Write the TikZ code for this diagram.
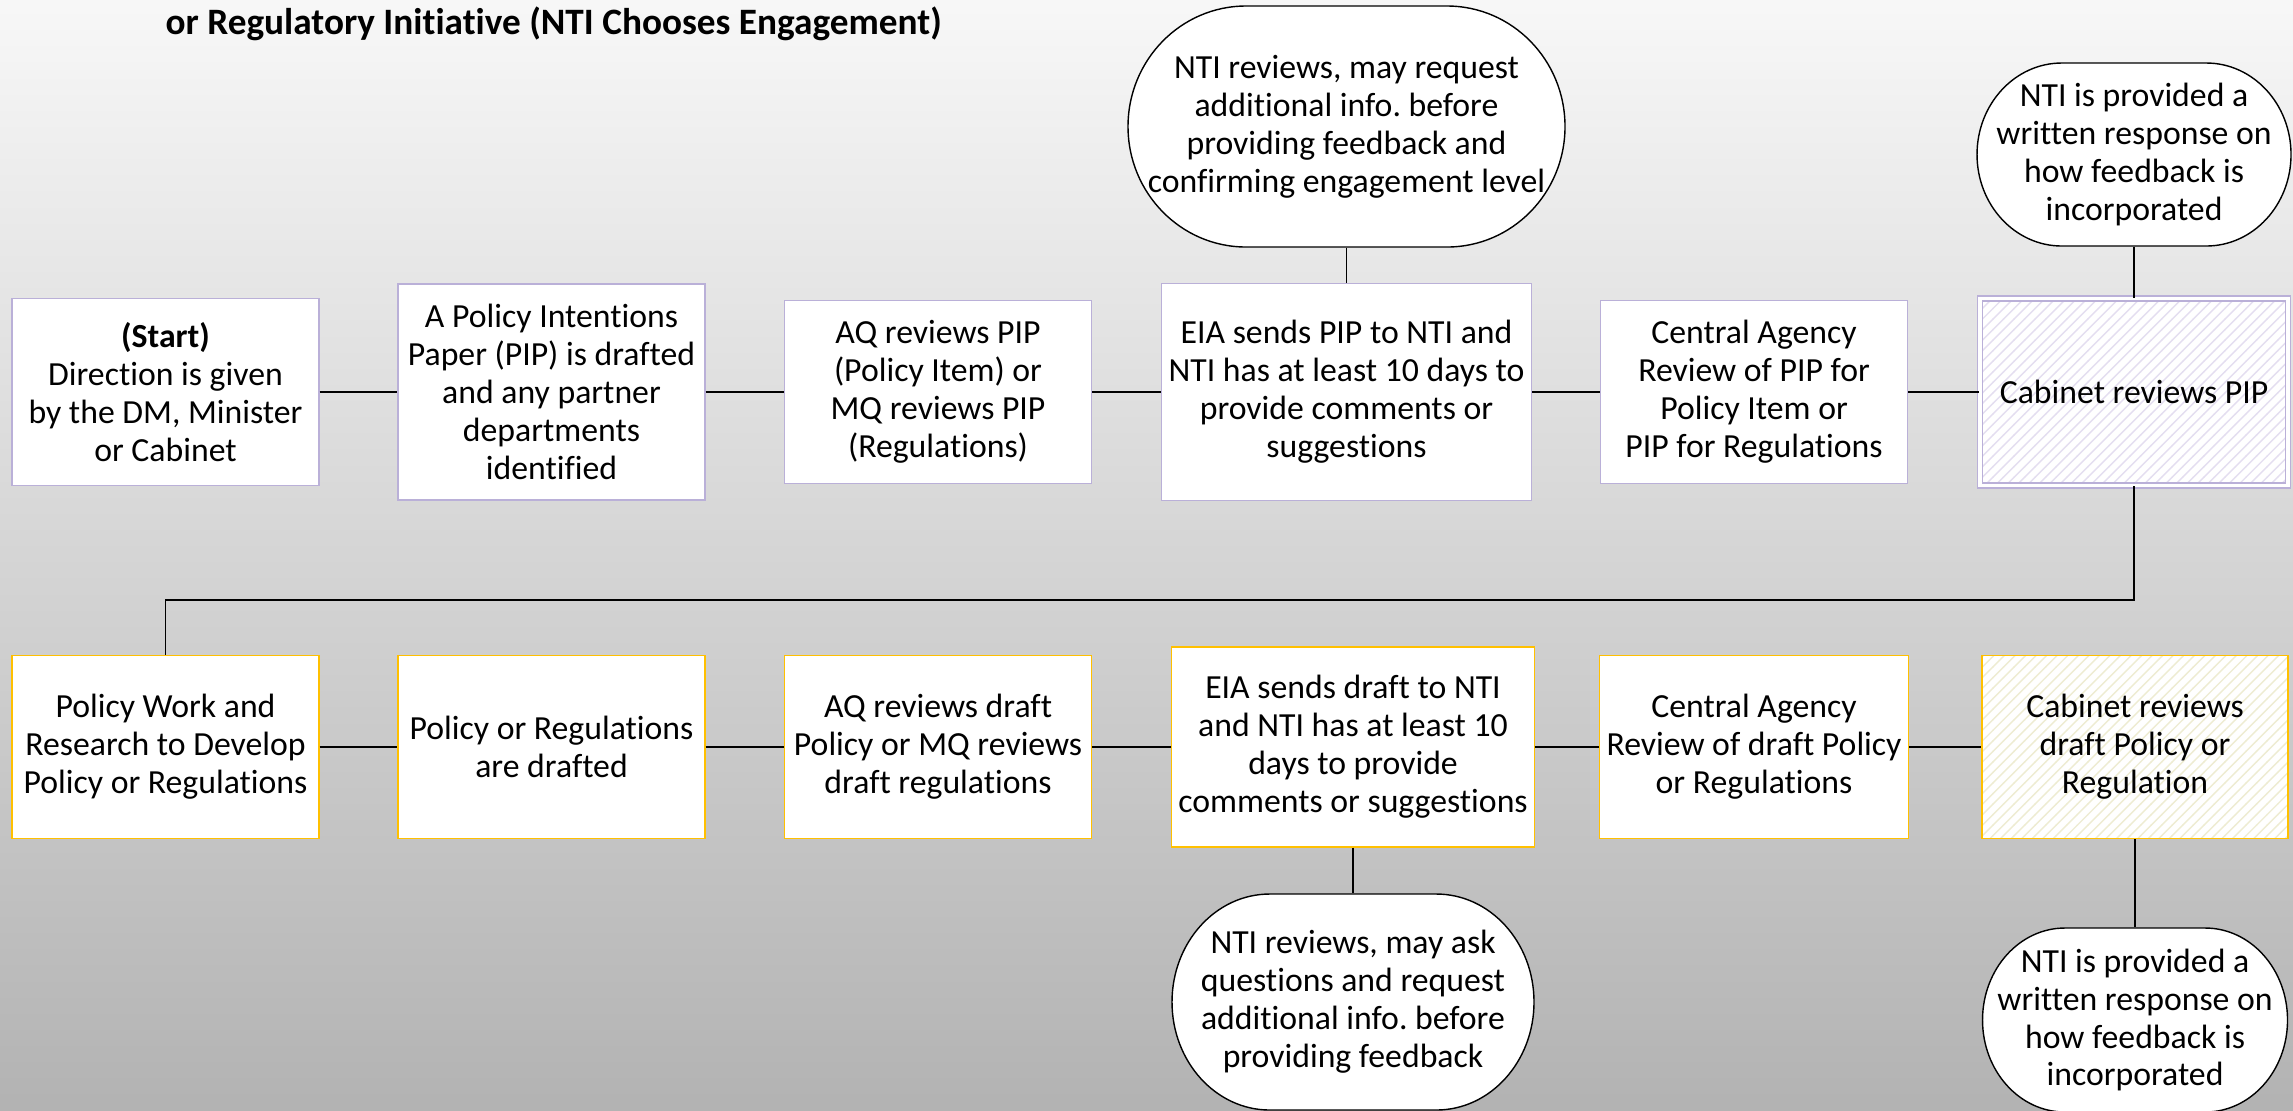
\documentclass[tikz,border=0pt]{standalone}
\usepackage{fontspec}
\setmainfont[Ligatures=NoCommon]{Carlito}
\usetikzlibrary{patterns}
\definecolor{pipPurple}{RGB}{186,176,216}
\definecolor{draftGold}{RGB}{255,192,0}
\definecolor{hatchPurple}{RGB}{228,222,240}
\definecolor{hatchGold}{RGB}{238,236,210}
\frenchspacing
\newcommand{\BodyFont}{\fontsize{9.6}{10.8}\selectfont}
\tikzset{
  pipBox/.style={draw=pipPurple,fill=white,line width=0.4pt,align=center,inner sep=2pt,
    minimum width=3.07cm,minimum height=1.83cm,font=\BodyFont},
  draftBox/.style={pipBox,draw=draftGold},
  ntiText/.style={align=center,inner sep=0pt,font=\BodyFont},
  link/.style={draw=black,line width=0.55pt}
}
% bubble with elliptic corners: name, centre, width, height, text
\newcommand{\NtiBubble}[5]{%
  \draw[fill=white,line width=0.4pt,shift={(#2)}] ({-#3/2},0)
    arc[start angle=180,end angle=90,x radius={0.27*#3},y radius={#4/2}]
    -- ({#3/2-0.27*#3},{#4/2})
    arc[start angle=90,end angle=-90,x radius={0.27*#3},y radius={#4/2}]
    -- ({-#3/2+0.27*#3},{-#4/2})
    arc[start angle=270,end angle=180,x radius={0.27*#3},y radius={#4/2}] -- cycle;
  \node[ntiText,minimum width=#3cm,minimum height=#4cm] (#1) at (#2) {#5};}

\begin{document}
\begin{tikzpicture}
\shade[top color=black!3,bottom color=black!30] (0,0) rectangle (22.93,-11.10);
\useasboundingbox (0,0) rectangle (22.93,-11.10);
\node[anchor=base west,inner sep=0pt,font=\bfseries\fontsize{10.6}{12}\selectfont] (title) at (1.65,-0.34)
  {or Regulatory Initiative (NTI Chooses Engagement)};

% PIP stage
\node[pipBox,minimum height=1.87cm] (start) at (1.655,-3.92) {\textbf{(Start)}\\Direction is given\\by the DM, Minister\\or Cabinet};
\node[pipBox,minimum height=2.16cm] (pipDraft) at (5.515,-3.92) {A Policy Intentions\\Paper (PIP) is drafted\\and any partner\\departments\\identified};
\node[pipBox] (aqPip) at (9.38,-3.92) {AQ reviews PIP\\(Policy Item) or\\MQ reviews PIP\\(Regulations)};
\node[pipBox,minimum width=3.61cm,minimum height=2.17cm] (eiaPip) at (13.465,-3.92) {EIA sends PIP to NTI and\\NTI has at least 10 days to\\provide comments or\\suggestions};
\node[pipBox] (centralPip) at (17.54,-3.92) {Central Agency\\Review of PIP for\\Policy Item or\\PIP for Regulations};
\node[pipBox,minimum width=3.08cm,minimum height=1.87cm,double=white,double distance=1.1pt,
  preaction={fill=white},pattern=north east lines,pattern color=hatchPurple] (cabPip) at (21.34,-3.92) {Cabinet reviews PIP};
\NtiBubble{ntiPip}{13.465,-1.265}{4.37}{2.41}{NTI reviews, may request\\additional info. before\\providing feedback and\\confirming engagement level}
\NtiBubble{ntiCab}{21.34,-1.545}{3.14}{1.83}{NTI is provided a\\written response on\\how feedback is\\incorporated}

% draft stage
\node[draftBox] (work) at (1.655,-7.47) {Policy Work and\\Research to Develop\\Policy or Regulations};
\node[draftBox] (drafted) at (5.515,-7.47) {Policy or Regulations\\are drafted};
\node[draftBox] (aqDraft) at (9.38,-7.47) {AQ reviews draft\\Policy or MQ reviews\\draft regulations};
\node[draftBox,minimum width=3.48cm,minimum height=2.0cm] (eiaDraft) at (13.53,-7.47) {EIA sends draft to NTI\\and NTI has at least 10\\days to provide\\comments or suggestions};
\node[draftBox] (centralDraft) at (17.54,-7.47) {Central Agency\\Review of draft Policy\\or Regulations};
\node[draftBox,minimum width=3.06cm,preaction={fill=white},pattern=north east lines,pattern color=hatchGold] (cabDraft) at (21.35,-7.47) {Cabinet reviews\\draft Policy or\\Regulation};
\NtiBubble{ntiDraft}{13.53,-10.02}{3.62}{2.16}{NTI reviews, may ask\\questions and request\\additional info. before\\providing feedback}
\NtiBubble{ntiCabDraft}{21.35,-10.20}{3.05}{1.84}{NTI is provided a\\written response on\\how feedback is\\incorporated}

% connectors
\draw[link] (start) -- (pipDraft);
\draw[link] (pipDraft) -- (aqPip);
\draw[link] (aqPip) -- (eiaPip);
\draw[link] (eiaPip) -- (centralPip);
\draw[link] (centralPip) -- (cabPip);
\draw[link] (ntiPip) -- (eiaPip);
\draw[link] (ntiCab) -- (cabPip);
\draw[link] (cabPip.south) -- ++(0,-1.14) -| (work.north);
\draw[link] (work) -- (drafted);
\draw[link] (drafted) -- (aqDraft);
\draw[link] (aqDraft) -- (eiaDraft);
\draw[link] (eiaDraft) -- (centralDraft);
\draw[link] (centralDraft) -- (cabDraft);
\draw[link] (eiaDraft) -- (ntiDraft);
\draw[link] (cabDraft) -- (ntiCabDraft);
\end{tikzpicture}
\end{document}
